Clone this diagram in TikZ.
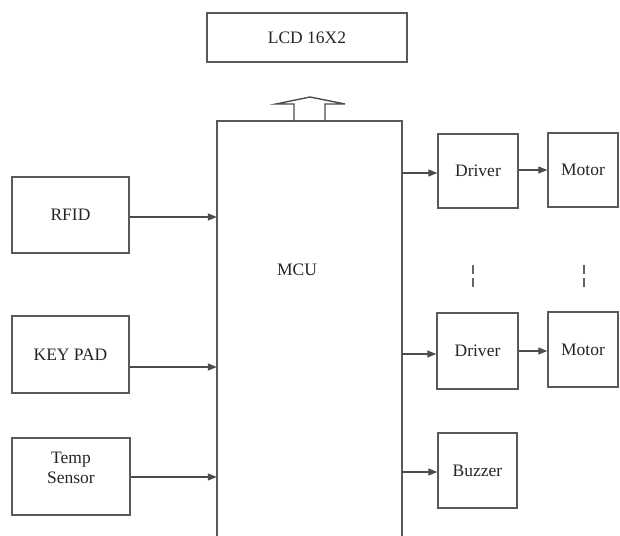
\documentclass[tikz,border=0pt]{standalone}
\usepackage{fontspec}
\setmainfont{Liberation Serif}
\usetikzlibrary{arrows.meta}
\begin{document}
\begin{tikzpicture}[x=1pt,y=-1pt,
  every node/.style={font=\fontsize{17.5}{20}\selectfont, text=black!85},
  box/.style={draw=black!65, line width=1.4pt, inner sep=0pt},
  ln/.style={draw=black!70, line width=1.2pt},
  arr/.style={ln, -{Triangle[length=9pt,width=7pt]}},
  dsh/.style={draw=black!60, line width=1.1pt, dash pattern=on 9pt off 4pt}]
\useasboundingbox (0,0) rectangle (620,535);
\fill[white] (0,0) rectangle (620,535);
% LCD
\node[box, minimum width=200pt, minimum height=49pt] (lcd) at (307,37.5) {LCD 16X2};
% MCU (open at the bottom)
\node[minimum width=185pt, minimum height=416pt, inner sep=0pt] (mcu) at (309.5,329) {};
\draw[draw=black!65, line width=1.6pt] (mcu.south west) -- (mcu.north west) -- (mcu.north east) -- (mcu.south east);
\node at (297,270) {MCU};
% hollow arrow to LCD
\draw[ln, line width=1.4pt] (294,121) -- (294,104) -- (276,104) -- (310,97) -- (345,104) -- (325,104) -- (325,121);
% inputs
\node[box, minimum width=117pt, minimum height=76pt] (rfid) at (70.5,215) {RFID};
\node[box, minimum width=117pt, minimum height=77pt] (key) at (70.5,354.5) {KEY PAD};
\node[box, minimum width=118pt, minimum height=77pt,
  label={[align=center, yshift=9pt, font=\fontsize{17.5}{20}\selectfont]center:Temp\\Sensor}] (temp) at (71,476.5) {};
\draw[arr] (rfid.east |- 0,217) -- (mcu.west |- 0,217);
\draw[arr] (key.east |- 0,367) -- (mcu.west |- 0,367);
\draw[arr] (temp.east |- 0,477) -- (mcu.west |- 0,477);
% outputs
\node[box, minimum width=80pt, minimum height=74pt] (drv1) at (478,171) {Driver};
\node[box, minimum width=70pt, minimum height=74pt] (mot1) at (583,170) {Motor};
\node[box, minimum width=81pt, minimum height=76pt] (drv2) at (477.5,351) {Driver};
\node[box, minimum width=70pt, minimum height=75pt] (mot2) at (583,349.5) {Motor};
\node[box, minimum width=79pt, minimum height=75pt] (buz) at (477.5,470.5) {Buzzer};
\draw[arr] (mcu.east |- 0,173) -- (drv1.west |- 0,173);
\draw[arr] (drv1.east |- 0,170) -- (mot1.west |- 0,170);
\draw[arr] (mcu.east |- 0,354) -- (drv2.west |- 0,354);
\draw[arr] (drv2.east |- 0,351) -- (mot2.west |- 0,351);
\draw[arr] (mcu.east |- 0,472) -- (buz.west |- 0,472);
% dashes between drivers / motors
\coordinate (d1) at (473,265); \coordinate (d2) at (473,290);
\coordinate (m1) at (584,265); \coordinate (m2) at (584,290);
\draw[dsh] (d1) -- (d2);
\draw[dsh] (m1) -- (m2);
\end{tikzpicture}
\end{document}
